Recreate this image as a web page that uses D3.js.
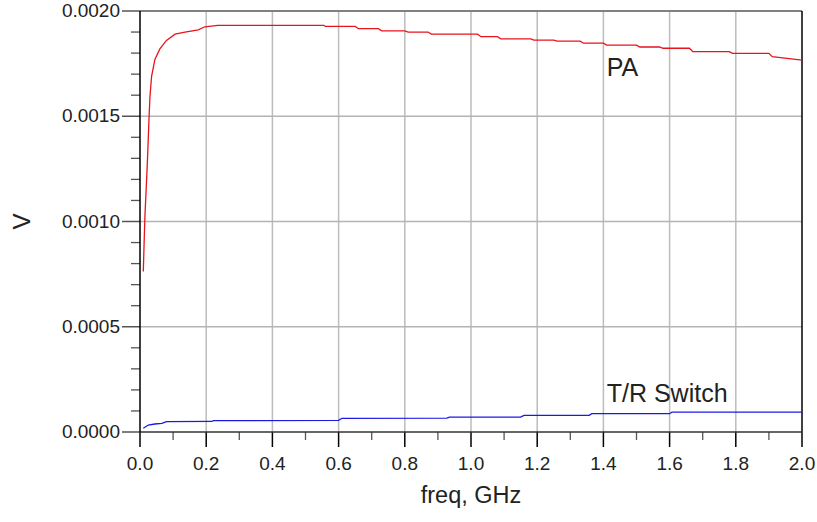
<!DOCTYPE html>
<html>
<head>
<meta charset="utf-8">
<script src="https://cdn.jsdelivr.net/npm/d3@7"></script>
<style>
  body { margin: 0; background: #fff; }
  svg { display: block; font-family: "Liberation Sans", Arial, sans-serif; }
</style>
</head>
<body>
<div id="chart"></div>
<script>
// freq in GHz, V in volts
var paFreq = [0.01, 0.012, 0.015, 0.02, 0.023, 0.027, 0.03, 0.035, 0.045, 0.06, 0.08, 0.106, 0.136, 0.176, 0.196, 0.235,
  0.555, 0.56, 0.65, 0.66, 0.72, 0.73, 0.8, 0.81, 0.87, 0.88, 1.02, 1.03, 1.08, 1.09, 1.18, 1.19, 1.25, 1.26, 1.33, 1.34,
  1.40, 1.41, 1.5, 1.51, 1.57, 1.58, 1.66, 1.67, 1.78, 1.79, 1.9, 1.91, 2.0];
var paV = [0.000762, 0.000874, 0.00103, 0.0012, 0.00131, 0.00148, 0.00159, 0.00169, 0.00177, 0.00182, 0.00186, 0.00189, 0.0019, 0.00191, 0.001925, 0.001932,
  0.001932, 0.001927, 0.001927, 0.001916, 0.001916, 0.001906, 0.001906, 0.0019, 0.0019, 0.00189, 0.00189, 0.001878, 0.001878, 0.001868, 0.001868, 0.001862,
  0.001862, 0.001857, 0.001857, 0.001847, 0.001847, 0.001838, 0.001838, 0.001829, 0.001829, 0.001823, 0.001823, 0.001807, 0.001807, 0.001799, 0.001799, 0.001783, 0.001767];

var trFreq = [0.01, 0.025, 0.045, 0.066, 0.08, 0.217, 0.222, 0.6, 0.61, 0.927, 0.935, 1.15, 1.16, 1.357, 1.365, 1.6, 1.607, 2.0];
var trV = [0.0000176, 0.000033, 0.000038, 0.000041, 0.000049, 0.00005, 0.000054, 0.000055, 0.000065, 0.000066, 0.000071, 0.000071, 0.000079, 0.000079, 0.000087, 0.000087, 0.000094, 0.000094];

var xTicks = [0.0, 0.2, 0.4, 0.6, 0.8, 1.0, 1.2, 1.4, 1.6, 1.8, 2.0];
var yTicks = [0.0000, 0.0005, 0.0010, 0.0015, 0.0020];

var seriesNames = ["PA", "T/R Switch"];
var seriesColors = ["#e8141c", "#1a1ae6"];
var labelX = [1.41, 1.41];
var labelY = [0.00169, 0.000142];

var width = 817, height = 522;
var margin = {top: 11, right: 15, bottom: 90, left: 140};

var svg = d3.select("#chart").append("svg")
    .attr("width", width)
    .attr("height", height);

var x = d3.scaleLinear().domain([0, 2]).range([margin.left, width - margin.right]);
var y = d3.scaleLinear().domain([0, 0.002]).range([height - margin.bottom, margin.top]);

var x0 = x.range()[0], x1 = x.range()[1];
var y0 = y.range()[0], y1 = y.range()[1];

// grid
var grid = svg.append("g");
grid.selectAll(".vg")
    .data(xTicks.slice(1, -1))
    .enter().append("line")
    .attr("x1", d => x(d)).attr("x2", d => x(d))
    .attr("y1", y1).attr("y2", y0)
    .attr("stroke", "#bcbcbc").attr("stroke-width", 1.5);
grid.selectAll(".hg")
    .data(yTicks.slice(1, -1))
    .enter().append("line")
    .attr("x1", x0).attr("x2", x1)
    .attr("y1", d => y(d)).attr("y2", d => y(d))
    .attr("stroke", "#b4b4b4").attr("stroke-width", 1.5);

// frame
svg.append("line").attr("x1", x0 - 18).attr("x2", x1).attr("y1", y1).attr("y2", y1)
    .attr("stroke", "#808080").attr("stroke-width", 2);
svg.append("line").attr("x1", x1).attr("x2", x1).attr("y1", y1).attr("y2", y0)
    .attr("stroke", "#000").attr("stroke-width", 1.5);

// y axis
var yMinor = d3.range(0, 21).map(i => i * 0.0001).filter((d, i) => i % 5 !== 0);
svg.append("g").selectAll("line")
    .data(yMinor)
    .enter().append("line")
    .attr("x1", x0 - 9).attr("x2", x0)
    .attr("y1", d => y(d)).attr("y2", d => y(d))
    .attr("stroke", "#555").attr("stroke-width", 1.3);
svg.append("g").selectAll("line")
    .data(yTicks.slice(0, -1))
    .enter().append("line")
    .attr("x1", x0 - 18).attr("x2", x0)
    .attr("y1", d => y(d)).attr("y2", d => y(d))
    .attr("stroke", "#555").attr("stroke-width", 1.5);
svg.append("g").selectAll("text")
    .data(yTicks)
    .enter().append("text")
    .attr("x", x0 - 20)
    .attr("y", d => y(d) + 6)
    .attr("text-anchor", "end")
    .attr("font-size", 19)
    .attr("fill", "#222")
    .text(d3.format(".4f"));

// x axis
var xMinor = d3.range(0, 20).map(i => i * 0.1 + 0.1).filter((d, i) => i % 2 === 0);
svg.append("g").selectAll("line")
    .data(xMinor)
    .enter().append("line")
    .attr("x1", d => x(d)).attr("x2", d => x(d))
    .attr("y1", y0).attr("y2", y0 + 8)
    .attr("stroke", "#555").attr("stroke-width", 1.3);
svg.append("g").selectAll("line")
    .data(xTicks)
    .enter().append("line")
    .attr("x1", d => x(d)).attr("x2", d => x(d))
    .attr("y1", y0).attr("y2", y0 + 15)
    .attr("stroke", "#000").attr("stroke-width", 1.5);
svg.append("g").selectAll("text")
    .data(xTicks)
    .enter().append("text")
    .attr("x", d => x(d))
    .attr("y", y0 + 38)
    .attr("text-anchor", "middle")
    .attr("font-size", 19)
    .attr("fill", "#222")
    .text(d3.format(".1f"));

svg.append("line").attr("x1", x0).attr("x2", x1).attr("y1", y0).attr("y2", y0)
    .attr("stroke", "#333").attr("stroke-width", 1.5);
svg.append("line").attr("x1", x0).attr("x2", x0).attr("y1", y1).attr("y2", y0)
    .attr("stroke", "#000").attr("stroke-width", 1.5);

// titles
svg.append("text")
    .attr("x", (x0 + x1) / 2)
    .attr("y", 503)
    .attr("text-anchor", "middle")
    .attr("font-size", 23.5)
    .attr("fill", "#222")
    .text("freq, GHz");
svg.append("text")
    .attr("transform", "translate(30," + ((y0 + y1) / 2) + ") rotate(-90)")
    .attr("text-anchor", "middle")
    .attr("font-size", 24)
    .attr("fill", "#222")
    .text("V");

// lines
var line = d3.line().x(d => x(d[0])).y(d => y(d[1]));
var series = [d3.zip(paFreq, paV), d3.zip(trFreq, trV)];
svg.append("g").selectAll("path")
    .data(series)
    .enter().append("path")
    .attr("d", line)
    .attr("fill", "none")
    .attr("stroke", (d, i) => seriesColors[i])
    .attr("stroke-width", 1.3);

svg.append("g").selectAll("text")
    .data(seriesNames)
    .enter().append("text")
    .attr("x", (d, i) => x(labelX[i]))
    .attr("y", (d, i) => y(labelY[i]))
    .attr("font-size", 25)
    .attr("fill", "#222")
    .text(d => d);
</script>
</body>
</html>
